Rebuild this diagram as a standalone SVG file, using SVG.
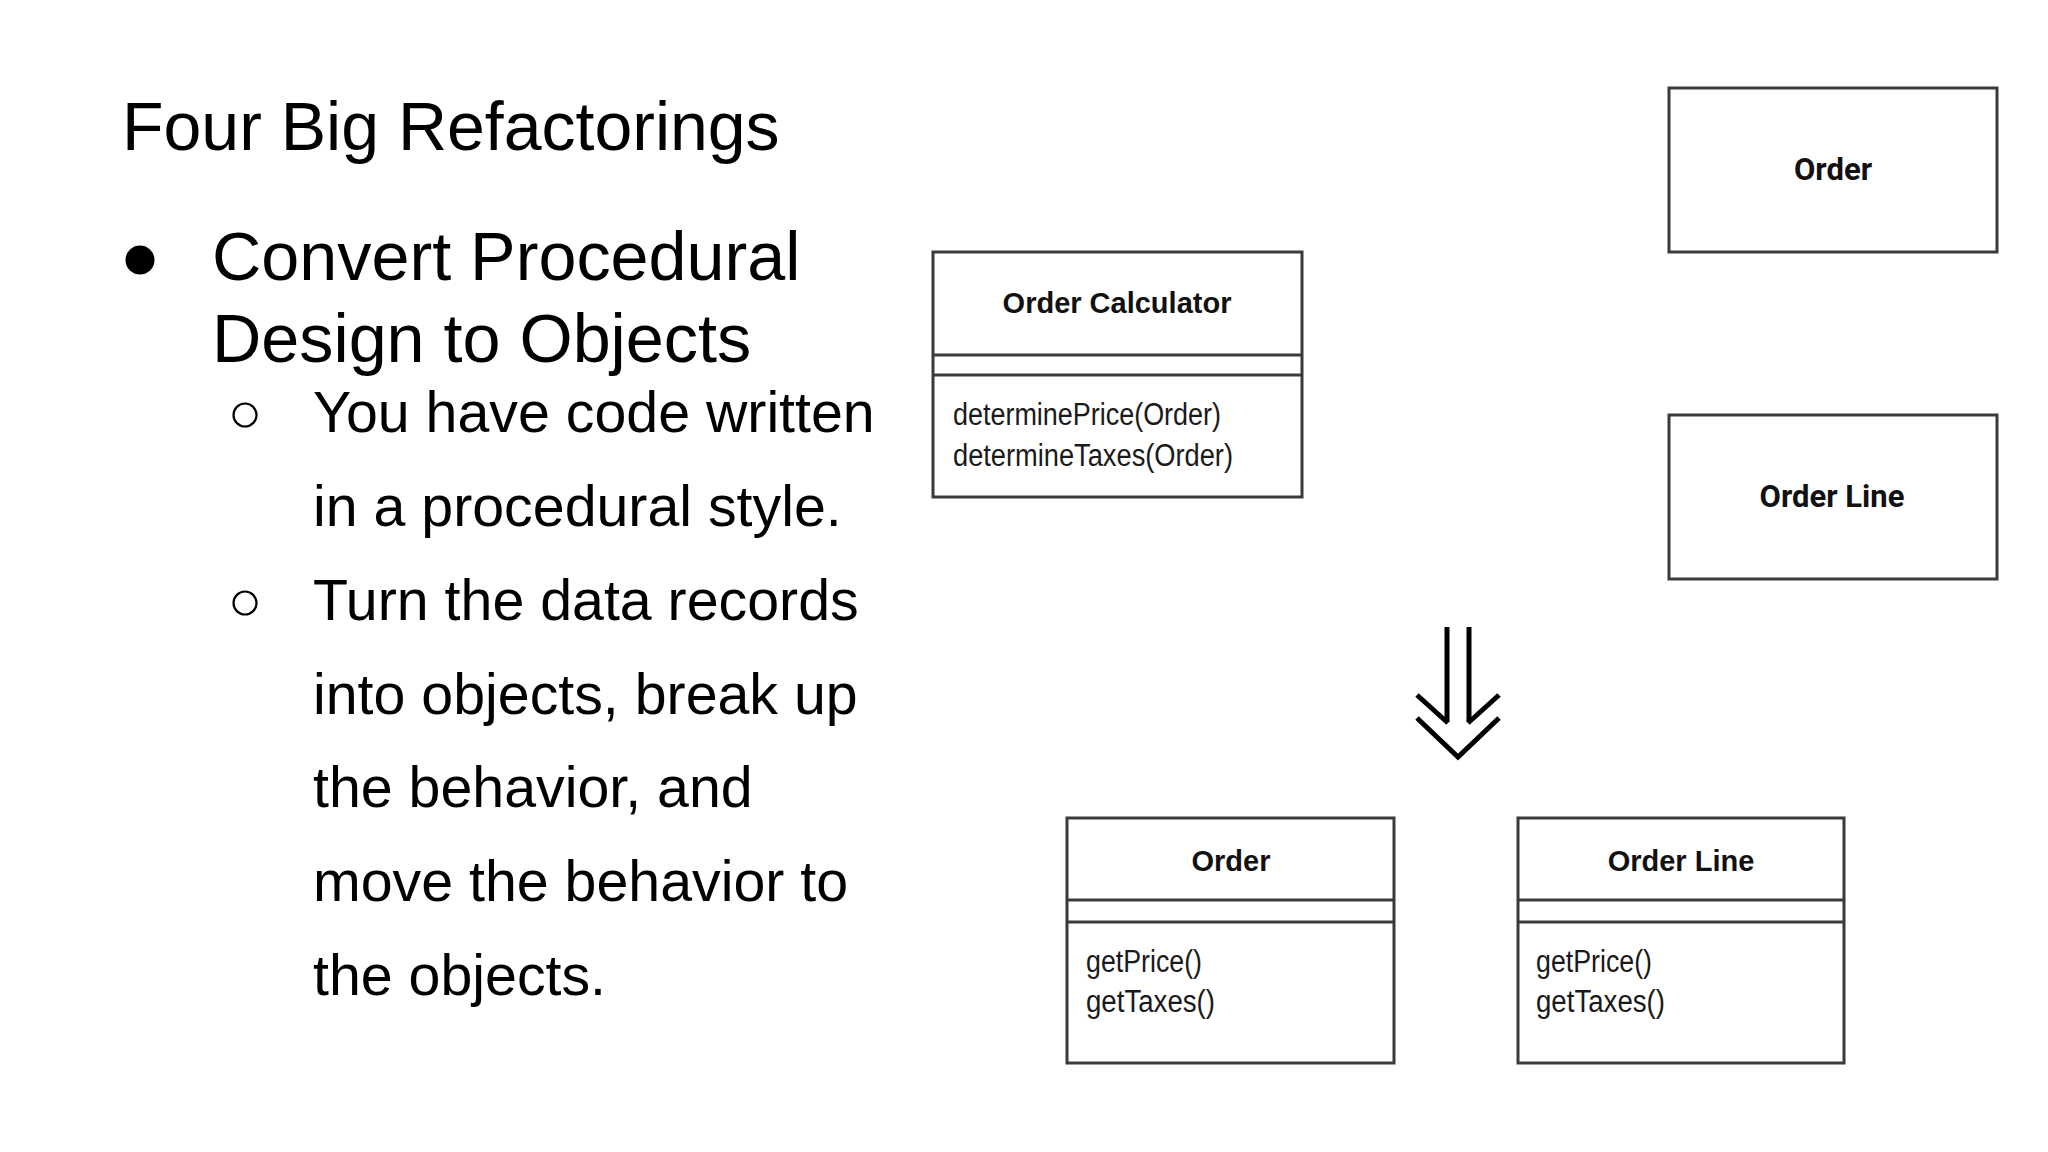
<svg xmlns="http://www.w3.org/2000/svg" width="2048" height="1152" viewBox="0 0 2048 1152">
  <style>
    .slide { font-family: "Liberation Sans", Arial, sans-serif; fill: #000; }
    .title { font-size: 68px; }
    .l1 { font-size: 68.3px; }
    .l2 { font-size: 57.3px; }
    .box { fill: #fff; stroke: #3a3a3a; stroke-width: 3; }
    .div { stroke: #3a3a3a; stroke-width: 3; }
    .cname { font-family: "Liberation Sans", Arial, sans-serif; font-weight: bold; font-size: 29px; fill: #111; text-anchor: middle; }
    .cname2 { font-family: Roboto, "Liberation Sans", sans-serif; font-weight: bold; font-size: 31px; fill: #111; text-anchor: middle; }
    .meth { font-family: "Liberation Sans", Arial, sans-serif; font-size: 31px; fill: #1a1a1a; }
    .arrow { fill: none; stroke: #000; stroke-width: 5; stroke-linejoin: miter; stroke-linecap: butt; }
  </style>
  <rect width="2048" height="1152" fill="#fff"/>

  <g id="text-panel" class="slide">
    <text class="title" x="122" y="150">Four Big Refactorings</text>
    <circle cx="140" cy="260" r="14.5" fill="#000"/>
    <text class="l1" x="212" y="280">Convert Procedural</text>
    <text class="l1" x="212" y="362">Design to Objects</text>
    <circle cx="245" cy="415" r="11.5" fill="none" stroke="#000" stroke-width="2.2"/>
    <text class="l2" x="313" y="432">You have code written</text>
    <text class="l2" x="313" y="526">in a procedural style.</text>
    <circle cx="245" cy="603" r="11.5" fill="none" stroke="#000" stroke-width="2.2"/>
    <text class="l2" x="313" y="620">Turn the data records</text>
    <text class="l2" x="313" y="714">into objects, break up</text>
    <text class="l2" x="313" y="807">the behavior, and</text>
    <text class="l2" x="313" y="901">move the behavior to</text>
    <text class="l2" x="313" y="995">the objects.</text>
  </g>

  <g id="node-order-calculator">
    <rect class="box" x="933" y="252" width="369" height="245"/>
    <line class="div" x1="933" y1="355" x2="1302" y2="355"/>
    <line class="div" x1="933" y1="375" x2="1302" y2="375"/>
    <text class="cname" x="1117" y="313">Order Calculator</text>
    <text class="meth" x="953" y="425" textLength="268" lengthAdjust="spacingAndGlyphs">determinePrice(Order)</text>
    <text class="meth" x="953" y="466" textLength="280" lengthAdjust="spacingAndGlyphs">determineTaxes(Order)</text>
  </g>

  <g id="node-order-data">
    <rect class="box" x="1669" y="88" width="328" height="164"/>
    <text class="cname2" x="1833" y="180">Order</text>
  </g>

  <g id="node-orderline-data">
    <rect class="box" x="1669" y="415" width="328" height="164"/>
    <text class="cname2" x="1832" y="507">Order Line</text>
  </g>

  <g id="node-order">
    <rect class="box" x="1067" y="818" width="327" height="245"/>
    <line class="div" x1="1067" y1="900" x2="1394" y2="900"/>
    <line class="div" x1="1067" y1="922" x2="1394" y2="922"/>
    <text class="cname" x="1231" y="871">Order</text>
    <text class="meth" x="1086" y="972" textLength="116" lengthAdjust="spacingAndGlyphs">getPrice()</text>
    <text class="meth" x="1086" y="1012" textLength="129" lengthAdjust="spacingAndGlyphs">getTaxes()</text>
  </g>

  <g id="node-order-line">
    <rect class="box" x="1518" y="818" width="326" height="245"/>
    <line class="div" x1="1518" y1="900" x2="1844" y2="900"/>
    <line class="div" x1="1518" y1="922" x2="1844" y2="922"/>
    <text class="cname" x="1681" y="871">Order Line</text>
    <text class="meth" x="1536" y="972" textLength="116" lengthAdjust="spacingAndGlyphs">getPrice()</text>
    <text class="meth" x="1536" y="1012" textLength="129" lengthAdjust="spacingAndGlyphs">getTaxes()</text>
  </g>

  <g id="connectors">
    <g id="refactor-arrow" class="arrow">
      <line x1="1447" y1="627" x2="1447" y2="722"/>
      <line x1="1469" y1="627" x2="1469" y2="722"/>
      <line x1="1417" y1="695" x2="1448" y2="723"/>
      <line x1="1499" y1="695" x2="1468" y2="723"/>
      <polyline points="1417,718 1458,757 1499,718"/>
    </g>
  </g>
</svg>
